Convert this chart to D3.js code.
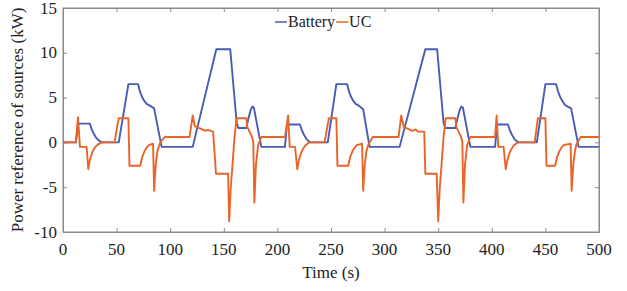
<!DOCTYPE html>
<html>
<head>
<meta charset="utf-8">
<script src="https://cdnjs.cloudflare.com/ajax/libs/d3/7.8.5/d3.min.js"></script>
<style>
  body { margin: 0; background: #fff; }
  text { font-family: "Liberation Serif", "Times New Roman", serif; fill: #222; }
</style>
</head>
<body>
<div id="chart"></div>
<script>
// time (s), power (kW)
var battery = [[0,0],[12,0],[14,2.1],[25,2.1],[27,1.4],[29,0.9],[31,0.5],[33,0.25],[35,0.1],[37,0],
  [52,0],[61,6.5],[70,6.5],[72,5.6],[74,5],[76,4.6],[78,4.3],[81,4.1],[85,3.8],[92,-0.5],
  [121,-0.5],[143,10.4],[156,10.4],[162,2.2],[163.5,1.6],[171,1.6],[173,2.7],[175,3.6],[176.5,4.0],[178,3.9],[185,-0.5],
  [207,-0.5],[209,2.0],[221,2.0],[223,1.3],[225,0.8],[227,0.4],[229,0.15],[231,0],
  [247,0],[255,6.5],[265,6.5],[267,5.6],[269,5],[271,4.6],[273,4.3],[276,4.1],[280,3.7],[286,-0.5],
  [314,-0.5],[338,10.4],[349,10.4],[355,2.2],[356.5,1.6],[366,1.6],[368,2.7],[370,3.6],[371.5,4.0],[373,3.9],[380,-0.5],
  [403,-0.5],[405,2.0],[415,2.0],[417,1.3],[419,0.8],[421,0.4],[423,0.15],[425,0],
  [442,0],[450,6.5],[460,6.5],[462,5.6],[464,5],[466,4.6],[468,4.2],[470,4.05],[474,3.8],[481,-0.5],[500,-0.5]];

var uc = [[0,0],[12,0],[14,2.8],[15.8,-0.5],[22,-0.5],[23.6,-3.0],[25,-2.0],[27,-1.2],[29,-0.7],[31,-0.4],[33,-0.2],[35,-0.08],[37,0],
  [48,0],[52,2.7],[61,2.7],[62,-2.6],[72,-2.6],[74,-1.6],[76,-1.0],[78,-0.6],[80,-0.3],[84,-0.15],[85,-5.4],[86.5,-2.5],[88,-1.0],[90,-0.2],[92,0.2],[95,0.6],
  [118,0.6],[121,3.0],[123,1.8],[127,1.6],[131,1.4],[133,1.3],[135,1.4],[140,1.2],[142.7,-3.5],[154,-3.5],[155,-8.8],[156.5,-5],[158,-2.7],[160,0.6],[162,2.7],
  [171,2.7],[172,1.7],[174,1.2],[176,0.7],[177.5,0.1],[178.5,-6.7],[180,-2.5],[182,-0.3],[185,0.6],
  [207,0.6],[210,3.0],[211.5,-0.5],[216.5,-0.5],[218.5,-3.0],[220,-2.0],[222,-1.2],[224,-0.7],[226,-0.35],[228,-0.15],[230,0],
  [244,0],[248,2.7],[255,2.7],[256,-2.6],[266,-2.6],[268,-1.6],[270,-1.0],[272,-0.6],[274,-0.3],[279,-0.15],[280,-5.4],[281.5,-2.5],[283,-1.0],[285,-0.2],[287,0.2],[289,0.6],
  [313,0.6],[315.5,3.0],[318,1.7],[322,1.5],[326,1.3],[329,1.45],[331,1.2],[337,1.2],[338,-3.5],[348.6,-3.5],[350,-8.8],[351.5,-5],[353,-2.7],[355,0.6],[357,2.7],
  [366,2.7],[367,1.7],[369,1.2],[371,0.7],[372.5,0.1],[373.5,-6.7],[375,-2.5],[377,-0.3],[380,0.6],
  [403,0.6],[404.5,3.0],[406,-0.5],[411,-0.5],[413,-3.0],[414.5,-2.0],[416.5,-1.2],[418.5,-0.7],[420.5,-0.35],[422.5,-0.15],[425,0],
  [440,0],[443,2.7],[450,2.7],[451,-2.6],[459,-2.6],[461,-1.6],[463,-1.0],[465,-0.6],[467,-0.3],[473.5,-0.15],[474.5,-5.4],[476,-2.5],[477.5,-1.0],[479,-0.2],[481,0.2],[483,0.6],[500,0.6]];

var xTicks = [0,50,100,150,200,250,300,350,400,450,500];
var yTicks = [-10,-5,0,5,10,15];
var seriesNames = ["Battery","UC"];
var colors = ["#4a5bb3","#e8652a"];

var W = 627, H = 291;
var m = {left: 63, right: 28, top: 8, bottom: 59};

var svg = d3.select("#chart").append("svg")
    .attr("width", W)
    .attr("height", H);

var x = d3.scaleLinear().domain([0,500]).range([m.left, W - m.right]);
var y = d3.scaleLinear().domain([-10,15]).range([H - m.bottom, m.top]);

// inward ticks on all four sides, matlab style
svg.append("g")
    .attr("transform", "translate(0," + (H - m.bottom) + ")")
    .call(d3.axisTop(x).tickValues(xTicks).tickSize(4).tickFormat(""));
svg.append("g")
    .attr("transform", "translate(0," + m.top + ")")
    .call(d3.axisBottom(x).tickValues(xTicks).tickSize(4).tickFormat(""));
svg.append("g")
    .attr("transform", "translate(" + m.left + ",0)")
    .call(d3.axisRight(y).tickValues(yTicks).tickSize(4).tickFormat(""));
svg.append("g")
    .attr("transform", "translate(" + (W - m.right) + ",0)")
    .call(d3.axisLeft(y).tickValues(yTicks).tickSize(4).tickFormat(""));
svg.selectAll(".domain, .tick line").attr("stroke", "#8a8a8a");

svg.append("rect")
    .attr("x", m.left).attr("y", m.top)
    .attr("width", x(500) - x(0)).attr("height", y(-10) - y(15))
    .attr("fill", "none").attr("stroke", "#8a8a8a");

// tick labels
svg.selectAll(".xl").data(xTicks).enter().append("text")
    .attr("x", function(d){ return x(d); })
    .attr("y", H - m.bottom + 23)
    .attr("text-anchor", "middle")
    .style("font-size", "17px")
    .text(function(d){ return d; });
svg.selectAll(".yl").data(yTicks).enter().append("text")
    .attr("x", m.left - 6)
    .attr("y", function(d){ return y(d) + 5.5; })
    .attr("text-anchor", "end")
    .style("font-size", "17px")
    .text(function(d){ return d; });

svg.append("text")
    .attr("x", (x(0) + x(500)) / 2)
    .attr("y", H - 13)
    .attr("text-anchor", "middle")
    .style("font-size", "17px")
    .text("Time (s)");
svg.append("text")
    .attr("transform", "translate(23," + ((y(-10) + y(15)) / 2) + ") rotate(-90)")
    .attr("text-anchor", "middle")
    .style("font-size", "17px")
    .text("Power reference of sources (kW)");

var line = d3.line()
    .x(function(d){ return x(d[0]); })
    .y(function(d){ return y(d[1]); });

[battery, uc].forEach(function(s, i){
  svg.append("path")
      .datum(s)
      .attr("d", line)
      .attr("fill", "none")
      .attr("stroke", colors[i])
      .attr("stroke-width", 1.9)
      .attr("stroke-linejoin", "round");
});

// legend
var lg = svg.append("g").attr("transform", "translate(275,22)");
var lx = 0;
seriesNames.forEach(function(n, i){
  lg.append("line").attr("x1", lx).attr("x2", lx + 12).attr("y1", 0).attr("y2", 0)
      .attr("stroke", colors[i]).attr("stroke-width", 1.5);
  var t = lg.append("text").attr("x", lx + 13).attr("y", 5)
      .style("font-size", "16px").text(n);
  lx += 13 + t.node().getComputedTextLength() + 1;
});
</script>
</body>
</html>
